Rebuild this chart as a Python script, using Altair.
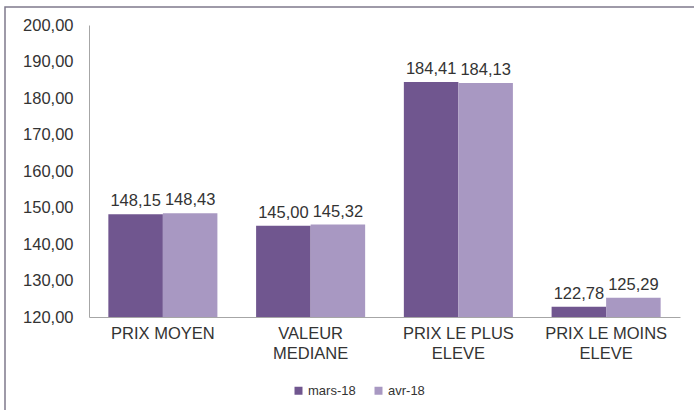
import altair as alt
import pandas as pd

categories = ["PRIX MOYEN", "VALEUR\nMEDIANE", "PRIX LE PLUS\nELEVE", "PRIX LE MOINS\nELEVE"]
series = ["mars-18", "avr-18"]
mars_values = [148.15, 145.00, 184.41, 122.78]
avr_values = [148.43, 145.32, 184.13, 125.29]
y_ticks = [120, 130, 140, 150, 160, 170, 180, 190, 200]
colors = ["#70568F", "#A898C2"]

rows = []
for c, m, a in zip(categories, mars_values, avr_values):
    rows.append({"cat": c, "serie": series[0], "value": m})
    rows.append({"cat": c, "serie": series[1], "value": a})
df = pd.DataFrame(rows)

FONT = "Liberation Sans"
TXT = "#333333"

base = alt.Chart(df).encode(
    x=alt.X("cat:N", sort=categories, title=None,
            scale=alt.Scale(paddingInner=0.262, paddingOuter=0.131),
            axis=alt.Axis(labelAngle=0, ticks=False, domainColor="#A6A6A6",
                          labelExpr="split(datum.label, '\\n')",
                          labelFont=FONT, labelFontSize=16.5, labelColor=TXT,
                          labelPadding=8, labelLineHeight=20, labelOverlap=False)),
    xOffset=alt.XOffset("serie:N", sort=series, scale=alt.Scale(paddingInner=0, paddingOuter=0)),
    y=alt.Y("value:Q", title=None,
            scale=alt.Scale(domain=[120, 200], zero=False, nice=False),
            axis=alt.Axis(values=y_ticks, ticks=False, grid=False, domainColor="#A6A6A6",
                          labelExpr="replace(format(datum.value, '.2f'), '.', ',')",
                          labelFont=FONT, labelFontSize=16.5, labelColor=TXT,
                          labelPadding=16, labelOverlap=False, labelFlush=False)),
)

bars = base.mark_bar().encode(
    y2=alt.datum(120),
    color=alt.Color("serie:N", sort=series, title=None,
                    scale=alt.Scale(domain=series, range=colors),
                    legend=alt.Legend(orient="none", direction="horizontal",
                                      legendX=203, legendY=359,
                                      symbolType="square", symbolSize=64,
                                      symbolStrokeWidth=0,
                                      labelFont=FONT, labelFontSize=13, labelColor=TXT,
                                      labelOffset=3, columnPadding=16)),
)

labels = base.transform_calculate(
    lab="replace(format(datum.value, '.2f'), '.', ',')"
).mark_text(baseline="bottom", dy=-5, font=FONT, fontSize=16.5, color=TXT).encode(
    text="lab:N",
)

border = alt.Chart(pd.DataFrame({"k": [0]})).mark_rect(
    fill=None, stroke="#7F7A8C", strokeWidth=1.5, clip=False
).encode(
    x=alt.value(-84), x2=alt.value(640),
    y=alt.value(-18), y2=alt.value(420),
)

chart = alt.layer(border, bars, labels).properties(
    width=591, height=292,
    autosize=alt.AutoSizeParams(type="none"),
    padding={"left": 89, "top": 25, "right": 14, "bottom": 93},
    background="white",
).configure_view(stroke=None).configure_axis(labelOverlap=False)

chart.save("out.html", embed_options={"renderer": "svg", "actions": False})
